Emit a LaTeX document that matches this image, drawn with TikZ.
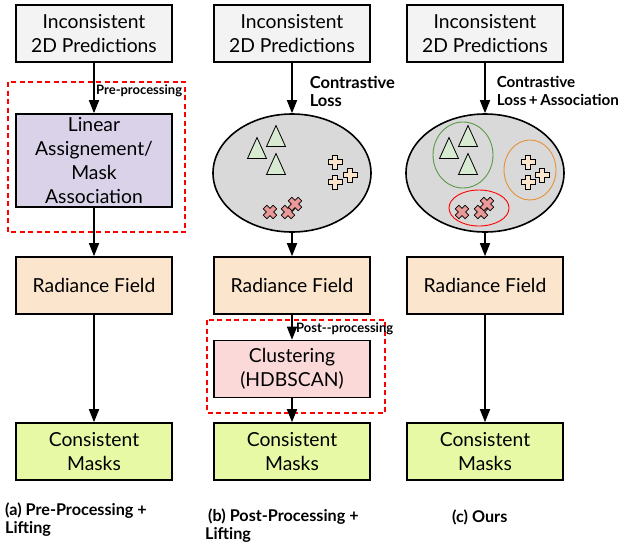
\documentclass[tikz,border=0pt]{standalone}
\usepackage{fontspec}
\setmainfont{Lato}
\usetikzlibrary{arrows.meta,positioning,shapes.geometric}

\definecolor{predfill}{HTML}{F3F3F3}
\definecolor{assocfill}{HTML}{D9D2E9}
\definecolor{radfill}{HTML}{FCE5CD}
\definecolor{clusfill}{HTML}{FBD9D9}
\definecolor{maskfill}{HTML}{E7F9A5}
\definecolor{cloudfill}{HTML}{D9D9D9}
\definecolor{trifill}{HTML}{D9EAD3}
\definecolor{crossfill}{HTML}{EA9999}
\definecolor{ringgreen}{HTML}{5B9A45}
\definecolor{ringorange}{HTML}{E69138}

\begin{document}
\begin{tikzpicture}[x=1pt,y=-1pt,>={Triangle[length=13pt,width=10pt]},
  box/.style={draw,line width=1.6pt,minimum width=156pt,minimum height=57pt,
    align=center,font=\fontsize{19.3}{24}\selectfont},
  cloud/.style={ellipse,draw,line width=1.6pt,fill=cloudfill,
    minimum width=158pt,minimum height=118pt,inner sep=0pt},
  flow/.style={->,line width=1.6pt},
  stage/.style={draw=red,line width=1.1pt,dash pattern=on 5pt off 3.5pt},
  tag/.style={font=\bfseries\fontsize{16.5}{18}\selectfont,align=left,anchor=west,inner sep=1pt},
  small tag/.style={font=\bfseries\fontsize{13}{14}\selectfont,anchor=west,inner sep=1pt},
  caption/.style={font=\bfseries\fontsize{16.2}{18}\selectfont,align=left,anchor=west,inner sep=0pt},
  ring/.style={line width=0.9pt},
  pics/tri/.style={code={
    \draw[fill=trifill,line width=0.8pt] (0,-10.5) -- (9.5,10.5) -- (-9.5,10.5) -- cycle;}},
  pics/mark/.style={code={
    \draw[fill=#1,line width=0.7pt] (-2.5,-7) -- (2.5,-7) -- (2.5,-2.5) -- (7,-2.5)
      -- (7,2.5) -- (2.5,2.5) -- (2.5,7) -- (-2.5,7) -- (-2.5,2.5) -- (-7,2.5)
      -- (-7,-2.5) -- (-2.5,-2.5) -- cycle;}}]
\useasboundingbox (0,0) rectangle (626,544);

% (a) pre-processing then lifting
\node[box,fill=predfill] (pred_a) at (94,33.5) {Inconsistent\\2D Predictions};
\node[box,fill=assocfill,minimum height=93pt] (assoc_a) at (94,160.5) {Linear\\Assignement/\\Mask\\Association};
\node[box,fill=radfill] (rad_a) at (94,285.5) {Radiance Field};
\node[box,fill=maskfill] (mask_a) at (94,451.5) {Consistent\\Masks};
\draw[stage] (8,82) rectangle (185,232);
\node[small tag] (pre_a) at (95,91) {Pre-processing};
\draw[flow] (pred_a) -- (assoc_a);
\draw[flow] (assoc_a) -- (rad_a);
\draw[flow] (rad_a) -- (mask_a);

% (b) lifting then clustering
\node[box,fill=predfill] (pred_b) at (292,33.5) {Inconsistent\\2D Predictions};
\node[cloud] (cloud_b) at (292,173) {};
\node[box,fill=radfill] (rad_b) at (292,285.5) {Radiance Field};
\node[box,fill=clusfill] (clus_b) at (292,369) {Clustering\\(HDBSCAN)};
\node[box,fill=maskfill] (mask_b) at (292,451.5) {Consistent\\Masks};
\draw[stage] (207,320) rectangle (385,413);
\node[small tag] (post_b) at (295,329) {Post-{}-processing};
\draw[flow] (pred_b) -- node[tag,right,xshift=16pt,yshift=-3pt] {Contrastive\\Loss} (cloud_b);
\draw[flow] (cloud_b) -- (rad_b);
\draw[flow] (rad_b) -- (clus_b);
\draw[flow] (clus_b) -- (mask_b);
\foreach \p in {(257,148),(276,136),(276,164)} \pic at \p {tri};
\foreach \p in {(335,162),(350,175),(335,182)} \pic at \p {mark=radfill};
\foreach \p in {(270,212),(288,212),(295,204)} \pic[rotate=45] at \p {mark=crossfill};

% (c) ours
\node[box,fill=predfill] (pred_c) at (485,33.5) {Inconsistent\\2D Predictions};
\node[cloud] (cloud_c) at (485,173) {};
\node[box,fill=radfill] (rad_c) at (485,285.5) {Radiance Field};
\node[box,fill=maskfill] (mask_c) at (485,451.5) {Consistent\\Masks};
\draw[flow] (pred_c) -- node[tag,right,xshift=10pt,yshift=-3pt,
  font=\bfseries\fontsize{15.2}{18}\selectfont] {Contrastive\\Loss\,+\,Association} (cloud_c);
\draw[flow] (cloud_c) -- (rad_c);
\draw[flow] (rad_c) -- (mask_c);
\draw[ring,ringgreen] (463,155) ellipse [x radius=30,y radius=33];
\draw[ring,ringorange] (530,170) ellipse [x radius=26,y radius=30];
\draw[ring,red] (479,208) ellipse [x radius=30,y radius=18];
\foreach \p in {(449,148),(468,136),(468,164)} \pic at \p {tri};
\foreach \p in {(528,162),(542,175),(528,182)} \pic at \p {mark=radfill};
\foreach \p in {(462,212),(481,212),(487,204)} \pic[rotate=45] at \p {mark=crossfill};

% captions
\node[caption] (cap_a) at (5,520) {(a) Pre-Processing +\\Lifting};
\node[caption] (cap_b) at (205,526) {\hspace{3pt}(b) Post-Processing +\\Lifting};
\node[caption] (cap_c) at (452,517) {(c) Ours};
\end{tikzpicture}
\end{document}
